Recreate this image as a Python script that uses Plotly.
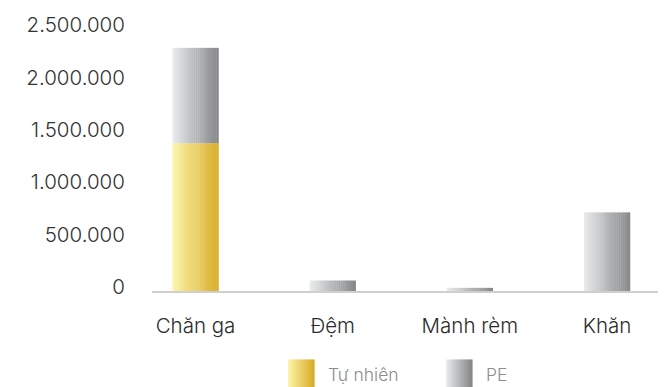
import plotly.graph_objects as go

# Data
categories = ["Chăn ga", "Đệm", "Mành rèm", "Khăn"]
tu_nhien = [1410000, 0, 0, 0]
pe = [910000, 100000, 30000, 750000]
tick_vals = [0, 500000, 1000000, 1500000, 2000000, 2500000]
tick_text = ["0", "500.000", "1.000.000", "1.500.000", "2.000.000", "2.500.000"]

FONT = "Inter"
BAR_W = 0.335
N_SLICES = 24

YELLOW = ((253, 243, 165), (216, 174, 42))
GREY = ((230, 232, 234), (135, 136, 138))


def mix(c, t):
    a, b = c
    return "rgb(%d,%d,%d)" % tuple(round(a[k] + (b[k] - a[k]) * t) for k in range(3))


fig = go.Figure()

# Each series is drawn as thin vertical slices to give a left-to-right gradient
step = BAR_W / N_SLICES
for name, vals, base, grad in [
    ("Tự nhiên", tu_nhien, [0] * len(categories), YELLOW),
    ("PE", pe, tu_nhien, GREY),
]:
    for i in range(N_SLICES):
        t = i / (N_SLICES - 1)
        fig.add_trace(go.Bar(
            x=categories, y=vals, base=base,
            width=step * 1.15,
            offset=-BAR_W / 2 + i * step,
            marker=dict(color=mix(grad, t), line=dict(width=0)),
            name=name, showlegend=False, hoverinfo="skip",
        ))

# Legend drawn as gradient swatches with labels below the plot
x0_px, x1_px = 152, 658
y0_px, y1_px = 27, 291
pw, ph = x1_px - x0_px, y1_px - y0_px


def px_x(p):
    return (p - x0_px) / pw


def px_y(p):
    return (y1_px - p) / ph


shapes = []
annotations = []
for label, grad, sx, tx in [("Tự nhiên", YELLOW, 288, 326), ("PE", GREY, 446, 484)]:
    sw = 26
    n = 13
    for i in range(n):
        t = i / (n - 1)
        shapes.append(dict(
            type="rect", xref="paper", yref="paper",
            x0=px_x(sx + i * sw / n), x1=px_x(sx + (i + 1) * sw / n + 0.6),
            y0=px_y(360), y1=px_y(390),
            fillcolor=mix(grad, t), line=dict(width=0), layer="above",
        ))
    annotations.append(dict(
        text=label, xref="paper", yref="paper",
        x=px_x(tx), y=px_y(375), xanchor="left", yanchor="middle",
        showarrow=False,
        font=dict(family=FONT, size=17.5, color="#8c8c8c", weight=300),
    ))

fig.update_layout(
    barmode="overlay",
    width=670, height=387,
    margin=dict(l=x0_px, r=670 - x1_px, t=y0_px, b=387 - y1_px),
    paper_bgcolor="white", plot_bgcolor="white",
    showlegend=False,
    shapes=shapes,
    annotations=annotations,
    font=dict(family=FONT, color="#333333"),
    xaxis=dict(
        type="category",
        range=[-0.317, 3.372],
        showline=True, linecolor="#cfcfcf", linewidth=2,
        showgrid=False, zeroline=False,
        ticks="outside", ticklen=15, tickcolor="rgba(0,0,0,0)",
        tickfont=dict(family=FONT, size=20.5, color="#2b2b2b", weight=300),
    ),
    yaxis=dict(
        range=[0, 2500000],
        tickvals=tick_vals, ticktext=tick_text,
        showgrid=False, zeroline=False, showline=False,
        ticks="outside", ticklen=22, tickcolor="rgba(0,0,0,0)",
        tickfont=dict(family=FONT, size=20.5, color="#333333", weight=300),
        ticklabelshift=-4,
    ),
)

fig.write_html("out.html")
